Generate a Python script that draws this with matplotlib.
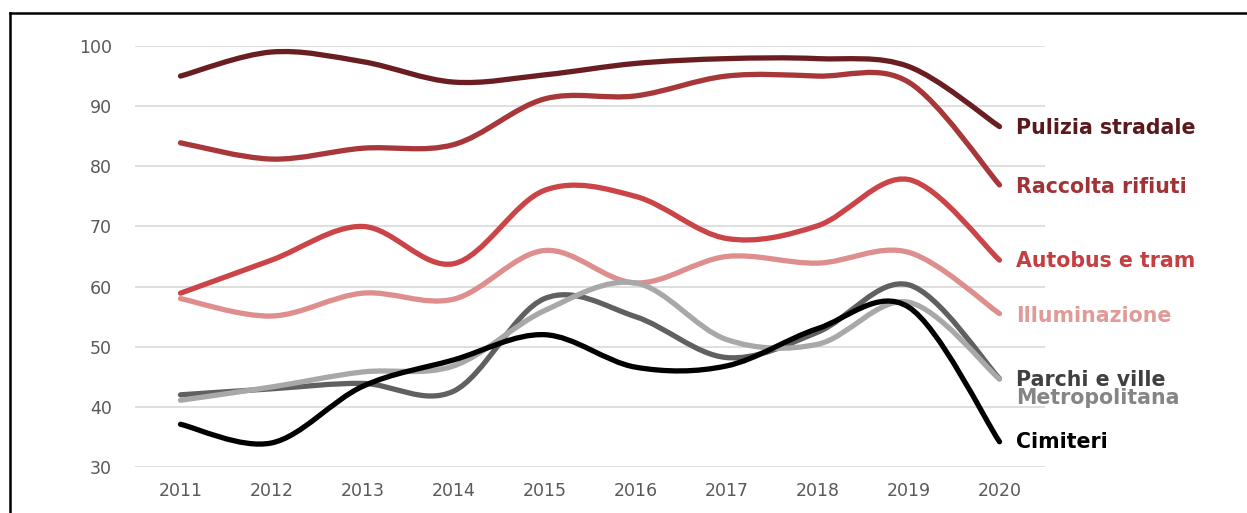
import matplotlib
matplotlib.use("Agg")
import matplotlib.pyplot as plt
from matplotlib.path import Path
from matplotlib.patches import PathPatch
from matplotlib.lines import Line2D
import numpy as np

years = [2011, 2012, 2013, 2014, 2015, 2016, 2017, 2018, 2019, 2020]

pulizia = [95, 99, 97.4, 94, 95.2, 97.1, 97.9, 97.9, 96.6, 86.6]
raccolta = [83.9, 81.2, 83.0, 83.6, 91.2, 91.7, 95.0, 95.0, 94.0, 76.9]
autobus = [58.9, 64.4, 70.0, 63.8, 76.0, 75.0, 68.0, 70.1, 77.8, 64.4]
illuminazione = [58.0, 55.1, 58.9, 57.9, 66.0, 60.6, 65.0, 63.9, 65.7, 55.5]
parchi = [42.0, 43.0, 43.9, 42.6, 58.0, 55.0, 48.2, 52.4, 60.3, 44.7]
metropolitana = [41.1, 43.3, 45.8, 46.8, 56.0, 60.6, 51.2, 50.4, 57.4, 44.6]
cimiteri = [37.1, 34.0, 43.4, 47.8, 52.0, 46.6, 46.8, 53.0, 56.6, 34.2]

labels = ["Pulizia stradale", "Raccolta rifiuti", "Autobus e tram", "Illuminazione",
          "Parchi e ville", "Metropolitana", "Cimiteri"]
series = [pulizia, raccolta, autobus, illuminazione, parchi, metropolitana, cimiteri]
line_colors = ["#6B1E22", "#A8373A", "#CB4448", "#DE8E8C", "#606060", "#A8A8A8", "#000000"]
text_colors = ["#5A191C", "#A03336", "#C43E42", "#E09A98", "#404040", "#858585", "#000000"]
label_y = [86.3, 76.5, 64.2, 55.1, 44.4, 41.5, 34.2]

yticks = [30, 40, 50, 60, 70, 80, 90, 100]

W, H = 1247, 513
fig = plt.figure(figsize=(W / 100, H / 100), dpi=100)
fig.patch.set_facecolor("white")
ax = fig.add_axes([135 / W, 1 - 467 / H, 910 / W, (467 - 46) / H])

def smooth_path(xs, ys):
    pts = np.column_stack([xs, ys]).astype(float)
    n = len(pts)
    verts = [pts[0]]
    codes = [Path.MOVETO]
    for i in range(n - 1):
        p0 = pts[i - 1] if i > 0 else pts[i]
        p1 = pts[i]
        p2 = pts[i + 1]
        p3 = pts[i + 2] if i + 2 < n else pts[i + 1]
        c1 = p1 + (p2 - p0) / 6.0
        c2 = p2 - (p3 - p1) / 6.0
        verts += [c1, c2, p2]
        codes += [Path.CURVE4] * 3
    return Path(verts, codes)

order = [3, 2, 1, 0, 5, 4, 6]
for idx in order:
    p = smooth_path(years, series[idx])
    ax.add_patch(PathPatch(p, fill=False, edgecolor=line_colors[idx], lw=3.8,
                           capstyle="round", joinstyle="round", zorder=3 + idx * 0.1))

for lab, ly, tc in zip(labels, label_y, text_colors):
    ax.text(2020.18, ly, lab, color=tc, fontsize=14.8, fontweight="bold",
            family=["DejaVu Sans"], va="center", ha="left", clip_on=False)

ax.set_xlim(2010.5, 2020.5)
ax.set_ylim(30, 100)
ax.set_yticks(yticks)
ax.set_xticks(years)
ax.set_xticklabels([str(y) for y in years])
ax.yaxis.grid(True, color="#D9D9D9", lw=1.2)
ax.set_axisbelow(True)
for s in ax.spines.values():
    s.set_visible(False)
ax.tick_params(axis="both", length=0, colors="#595959", labelsize=12.5)
ax.tick_params(axis="y", pad=16.5)
ax.tick_params(axis="x", pad=11)
for t in ax.get_xticklabels() + ax.get_yticklabels():
    t.set_family(["DejaVu Sans"])

# frame
fig.add_artist(Line2D([10 / W, 1.0], [1 - 13 / H, 1 - 13 / H], color="black", lw=1.8,
                      transform=fig.transFigure))
fig.add_artist(Line2D([10 / W, 10 / W], [0, 1 - 13 / H], color="black", lw=1.8,
                      transform=fig.transFigure))

fig.savefig("out.png", dpi=100)
